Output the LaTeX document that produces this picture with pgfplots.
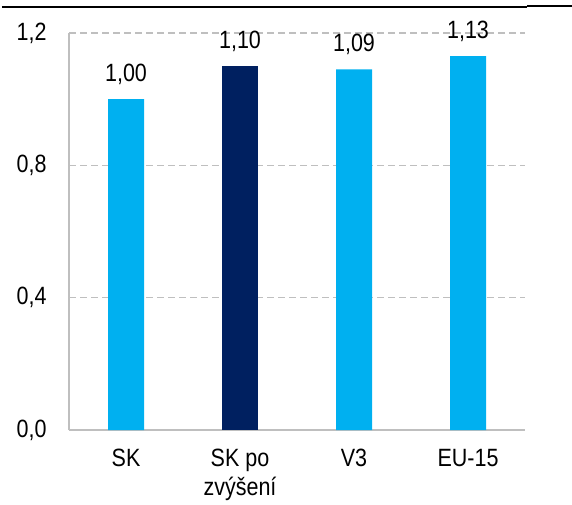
\documentclass[border=0pt]{standalone}
\usepackage{pgfplots}
\pgfplotsset{compat=1.18}
\usepackage{fontspec}
\setmainfont{Liberation Sans}[FakeStretch=0.86]
\definecolor{lblue}{HTML}{00B0F0}
\definecolor{navy}{HTML}{002060}
\definecolor{gridg}{HTML}{BFBFBF}
\begin{document}
\begin{tikzpicture}
\begin{axis}[
  scale only axis,
  width=456pt, height=397pt,
  xmin=-0.5, xmax=3.5,
  ymin=0, ymax=1.2,
  ybar, bar width=36pt, bar shift=0pt,
  axis x line*=bottom, axis y line*=left,
  axis line style={gridg, line width=1.2pt, -},
  major tick length=0pt,
  xtick={0,1,2,3},
  xticklabels={SK,{SK po\\zvýšení},V3,EU-15},
  xticklabel style={align=center, font=\fontsize{25}{29}\selectfont, yshift=-16pt},
  ytick={0,0.4,0.8,1.2},
  yticklabel style={font=\fontsize{25}{29}\selectfont, xshift=-19pt},
  /pgf/number format/assume math mode=true,
  /pgf/number format/.cd, fixed, fixed zerofill, precision=1, use comma,
  /pgfplots/.cd,
  ymajorgrids,
  grid style={gridg, line width=1.1pt, dash pattern=on 7pt off 4pt},
  nodes near coords,
  nodes near coords style={font=\fontsize{25}{29}\selectfont, black, yshift=11pt,
    /pgf/number format/.cd, fixed, fixed zerofill, precision=2, use comma, assume math mode=true},
]
\addplot[fill=lblue, draw=none] coordinates {(0,1.00) (2,1.09) (3,1.13)};
\addplot[fill=navy, draw=none] coordinates {(1,1.10)};
\end{axis}
\draw[black, line width=1.4pt] (-67pt,423pt) -- (458pt,423pt);
\draw[black, line width=1.8pt] (458pt,424pt) -- (503pt,424pt);
\pgfresetboundingbox
\useasboundingbox (-69pt,-75pt) rectangle (503pt,430pt);
\end{tikzpicture}
\end{document}
